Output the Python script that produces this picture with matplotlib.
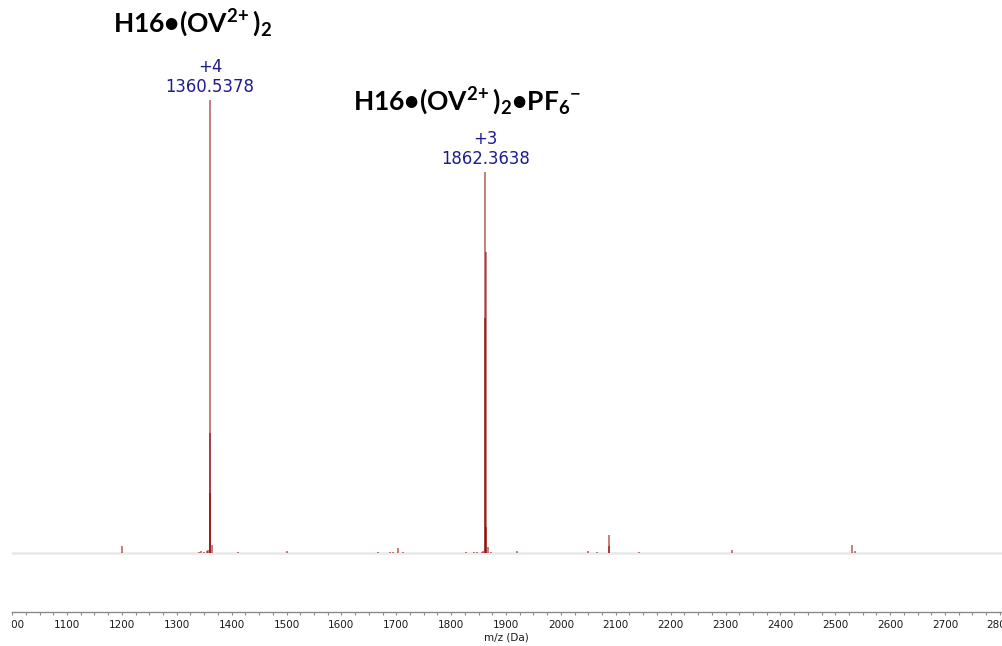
import numpy as np
import matplotlib
matplotlib.use("Agg")
import matplotlib.pyplot as plt
from matplotlib.ticker import MultipleLocator
from matplotlib.transforms import Bbox, TransformedBbox

# centroided peak list (m/z, relative intensity in %)
mz = [1199.9, 1340.0, 1345.0, 1350.0, 1355.0, 1357.5,
      1360.29, 1360.54, 1360.79, 1363.7, 1411.6, 1500.4,
      1667.0, 1689.0, 1694.0, 1702.7, 1711.8,
      1826.6, 1842.0, 1847.0, 1856.0, 1858.0,
      1862.03, 1862.36, 1862.70, 1863.03, 1867.6, 1873.0,
      1919.5, 2050.0, 2065.0, 2087.8, 2088.1, 2143.0,
      2312.5, 2531.0, 2536.0]
intensity = [1.5, 0.3, 0.4, 0.3, 0.5, 0.6,
             13.2, 100.0, 26.5, 1.8, 0.25, 0.45,
             0.25, 0.25, 0.3, 1.1, 0.25,
             0.25, 0.3, 0.3, 0.3, 0.4,
             51.9, 84.1, 66.4, 5.7, 1.3, 0.25,
             0.45, 0.4, 0.25, 4.0, 1.5, 0.25,
             0.7, 1.8, 0.4]

# labelled peaks
label_mz = [1360.5378, 1862.3638]
label_int = [100.0, 84.1]
label_charge = ["+4", "+3"]

species = [r"$\mathbf{H16•(OV^{2\!+})_{2}}$",
           r"$\mathbf{H16•(OV^{2\!+})_{2}•PF_{6}{}^{-}}$"]
species_pos = [(1329.0, 115.0), (1830.0, 97.8)]

plt.rcParams["mathtext.fontset"] = "custom"
plt.rcParams["mathtext.bf"] = "Lato:bold"
plt.rcParams["mathtext.rm"] = "Lato:bold"

fig = plt.figure(figsize=(10.03, 6.46), dpi=100)
ax = fig.add_axes([0.0121, 0.0526, 0.9879, 0.9474])

ax.axhline(0, color="#e8e8e8", lw=1.8, zorder=1)
ax.vlines(mz, 0, intensity, color="#8b0000", lw=1.3, alpha=0.55, zorder=2)

for x, y, z in zip(label_mz, label_int, label_charge):
    ax.text(x, y + 1.7, f"{x:.4f}", ha="center", va="baseline",
            color="#1c1c8c", fontsize=11.9)
    ax.text(x, y + 6.2, z, ha="center", va="baseline",
            color="#1c1c8c", fontsize=11.9)

for s, (x, y) in zip(species, species_pos):
    ax.text(x, y, s, ha="center", va="baseline", fontsize=19, color="black")

ax.set_xlim(1000, 2805.7)
ax.set_ylim(-13.02, 122.1)

for side in ["left", "right", "top"]:
    ax.spines[side].set_visible(False)
ax.spines["bottom"].set_color("#8a8a8a")
ax.spines["bottom"].set_linewidth(1.0)
ax.set_yticks([])
ax.xaxis.set_major_locator(MultipleLocator(100))
ax.xaxis.set_minor_locator(MultipleLocator(25))
ax.tick_params(axis="x", which="major", direction="out", length=2.5, width=0.8,
               color="#8a8a8a", labelsize=7.5, pad=3.0, labelcolor="#1a1a1a")
ax.tick_params(axis="x", which="minor", direction="out", length=2.0, width=0.8,
               color="#8a8a8a")

fig.text(506 / 1003, 1 - 638 / 646, "m/z (Da)", ha="center", va="center",
         fontsize=7.5, color="#1a1a1a")

# tick labels are cut at the left end of the axis
clip = TransformedBbox(Bbox([[0.0121, 0.0], [1.2, 1.0]]), fig.transFigure)
for t in ax.xaxis.get_major_ticks():
    t.label1.set_clip_box(clip)
    t.label1.set_clip_on(True)

fig.savefig("out.png", dpi=100, facecolor="white")
